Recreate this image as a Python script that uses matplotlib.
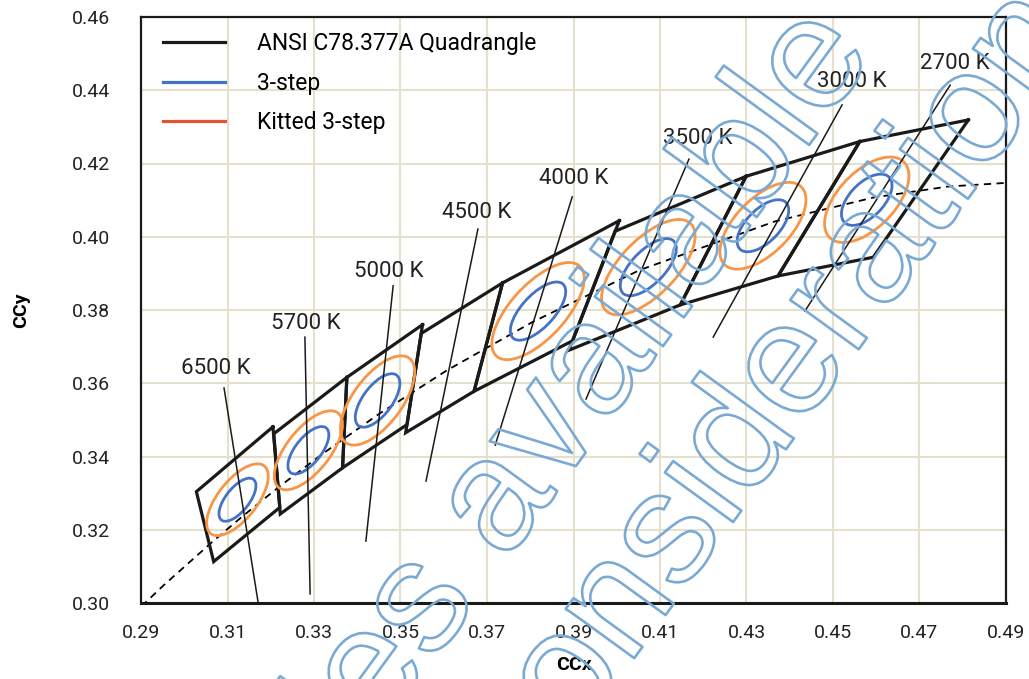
import matplotlib
matplotlib.use("Agg")
import matplotlib.pyplot as plt
from matplotlib.patches import Ellipse
from matplotlib.lines import Line2D
import matplotlib.patheffects as pe

plt.rcParams['font.family'] = ['Roboto', 'DejaVu Sans']

# ---------------- data ----------------
cct_labels = ["2700 K", "3000 K", "3500 K", "4000 K", "4500 K", "5000 K", "5700 K", "6500 K"]

# ANSI C78.377A quadrangle corners (x, y): top-right, top-left, bottom-left, bottom-right
quad_x = [
    [0.4813, 0.4562, 0.4373, 0.4593],
    [0.4562, 0.4299, 0.4147, 0.4373],
    [0.4299, 0.3996, 0.3889, 0.4147],
    [0.4006, 0.3736, 0.3670, 0.3898],
    [0.3736, 0.3548, 0.3512, 0.3670],
    [0.3551, 0.3376, 0.3366, 0.3515],
    [0.3376, 0.3207, 0.3222, 0.3366],
    [0.3205, 0.3028, 0.3068, 0.3221],
]
quad_y = [
    [0.4319, 0.4260, 0.3893, 0.3944],
    [0.4260, 0.4165, 0.3814, 0.3893],
    [0.4165, 0.4015, 0.3690, 0.3814],
    [0.4044, 0.3874, 0.3578, 0.3716],
    [0.3874, 0.3736, 0.3465, 0.3578],
    [0.3760, 0.3616, 0.3369, 0.3487],
    [0.3616, 0.3462, 0.3243, 0.3369],
    [0.3481, 0.3304, 0.3113, 0.3261],
]

# 1-step MacAdam ellipses (centre, semi-axes a, b, angle in degrees) -- no ellipse for 4500 K
ell_cct = ["2700 K", "3000 K", "3500 K", "4000 K", "5000 K", "5700 K", "6500 K"]
ell_x = [0.4578, 0.4338, 0.4073, 0.3818, 0.3447, 0.3287, 0.3123]
ell_y = [0.4101, 0.4030, 0.3917, 0.3797, 0.3553, 0.3417, 0.3282]
ell_a = [0.00270, 0.00278, 0.00309, 0.00313, 0.00274, 0.00246, 0.00223]
ell_b = [0.00140, 0.00136, 0.00138, 0.00134, 0.00118, 0.00105, 0.00095]
ell_theta = [54.0, 53.22, 52.97, 54.00, 59.62, 58.0, 58.23]
steps_3step = 3
steps_kitted = 5

# Planckian locus (x, y)
planck_x = [0.4953, 0.4765, 0.4593, 0.4366, 0.4053, 0.3805, 0.3607, 0.3450, 0.3323, 0.3220, 0.3135, 0.3064, 0.2952, 0.2870]
planck_y = [0.4151, 0.4137, 0.4107, 0.4042, 0.3909, 0.3767, 0.3635, 0.3516, 0.3410, 0.3318, 0.3237, 0.3166, 0.3048, 0.2956]

x_ticks = [0.29, 0.31, 0.33, 0.35, 0.37, 0.39, 0.41, 0.43, 0.45, 0.47, 0.49]
y_ticks = [0.30, 0.32, 0.34, 0.36, 0.38, 0.40, 0.42, 0.44, 0.46]

legend_labels = ["ANSI C78.377A Quadrangle", "3-step", "Kitted 3-step"]

watermark_lines = ["Samples available", "upon consideration"]

# ---------------- annotation layout (label text position and leader line, data coords) ----------------
lbl_text_xy = [(0.4782, 0.4474), (0.4544, 0.4423), (0.4188, 0.4267), (0.3901, 0.4160),
               (0.3677, 0.4065), (0.3473, 0.3904), (0.3282, 0.3762), (0.3073, 0.3639)]
lbl_line = [((0.4771, 0.4414), (0.4435, 0.3797)),
            ((0.4521, 0.4360), (0.4223, 0.3726)),
            ((0.4167, 0.4212), (0.3929, 0.3557)),
            ((0.3897, 0.4109), (0.3719, 0.3431)),
            ((0.3679, 0.4021), (0.3559, 0.3333)),
            ((0.3483, 0.3866), (0.3420, 0.3169)),
            ((0.3279, 0.3726), (0.3291, 0.3025)),
            ((0.3092, 0.3587), (0.3171, 0.3000))]

# ---------------- styles ----------------
BLUE = '#4472c4'
ORANGE = '#f79646'
KIT_LEG = '#e0572f'
GRID = '#e4e0cc'

fig = plt.figure(figsize=(10.29, 6.79), dpi=100)
ax = fig.add_axes([141/1029, 1-603/679, (1006-141)/1029, (603-17)/679])

ax.set_xlim(0.29, 0.49)
ax.set_ylim(0.30, 0.46)
ax.set_xticks(x_ticks)
ax.set_yticks(y_ticks)
ax.set_xticklabels([f"{v:.2f}" for v in x_ticks])
ax.set_yticklabels([f"{v:.2f}" for v in y_ticks])
ax.tick_params(length=0, labelsize=14, colors='#222222')
ax.tick_params(axis='y', pad=22)
ax.tick_params(axis='x', pad=15)
ax.grid(True, color=GRID, lw=1.5)
ax.set_axisbelow(True)
for s in ax.spines.values():
    s.set_linewidth(1.6)
    s.set_color('#1a1a1a')
ax.spines['bottom'].set_linewidth(2.2)

ax.set_xlabel("CCx", fontsize=14, fontweight='bold', labelpad=10)
ax.set_ylabel("CCy", fontsize=14, fontweight='bold', labelpad=30)

# Planckian locus
ax.plot(planck_x, planck_y, color='black', lw=1.3, ls=(0, (4, 3)), zorder=3)

# quadrangles
for qx, qy in zip(quad_x, quad_y):
    ax.plot(qx + [qx[0]], qy + [qy[0]], color='#1a1a1a', lw=2.3, solid_joinstyle='miter', zorder=4)

# ellipses
for cx, cy, a, b, t in zip(ell_x, ell_y, ell_a, ell_b, ell_theta):
    ax.add_patch(Ellipse((cx, cy), 2*a*steps_kitted, 2*b*steps_kitted, angle=t,
                         fill=False, ec=ORANGE, lw=2.0, zorder=5))
    ax.add_patch(Ellipse((cx, cy), 2*a*steps_3step, 2*b*steps_3step, angle=t,
                         fill=False, ec=BLUE, lw=2.0, zorder=5))

# labels and leader lines
for lab, (tx, ty), ((x0, y0), (x1, y1)) in zip(cct_labels, lbl_text_xy, lbl_line):
    ax.plot([x0, x1], [y0, y1], color='#1a1a1a', lw=1.1, zorder=6)
    ax.text(tx, ty, lab, fontsize=16, ha='center', va='center', color='#222222', zorder=7)

# legend
handles = [Line2D([], [], color='#1a1a1a', lw=2.3),
           Line2D([], [], color=BLUE, lw=2.3),
           Line2D([], [], color=KIT_LEG, lw=2.3)]
ax.legend(handles, legend_labels, loc='upper left', bbox_to_anchor=(0.020, 0.982),
          frameon=False, fontsize=16.5, handlelength=2.7, handletextpad=1.4,
          labelspacing=0.72, borderpad=0.2, borderaxespad=0)

# watermark (outlined text); anchors are baseline ends in figure pixels
wm_color = '#7aaad3'
wm_anchor_px = [(876, 53), (1087, 35)]
for txt, (px, py) in zip(watermark_lines, wm_anchor_px):
    fig.text(px/1029, 1-py/679, txt, fontsize=115, rotation=54,
             rotation_mode='anchor', ha='right', va='baseline', family='Liberation Sans',
             color=(1, 1, 1, 0), zorder=20,
             path_effects=[pe.Stroke(linewidth=1.9, foreground=wm_color)])

fig.savefig("out.png", dpi=100)
